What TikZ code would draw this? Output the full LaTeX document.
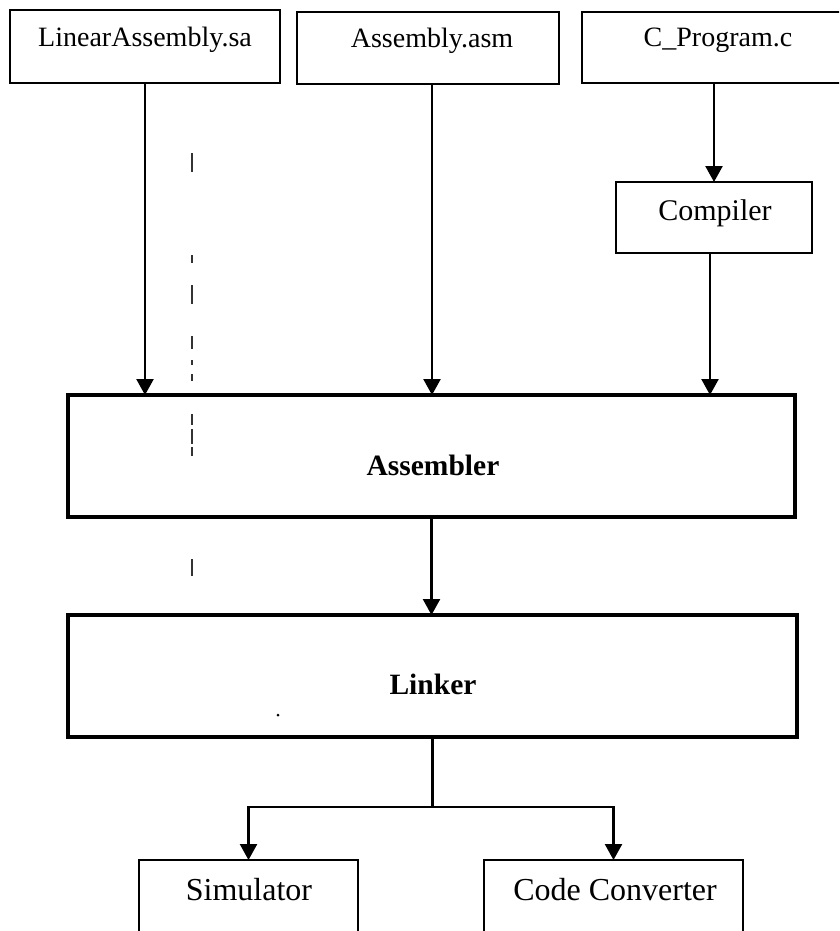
\documentclass[tikz,border=0pt]{standalone}
\usepackage{fontspec}
\setmainfont{Liberation Serif}
\usetikzlibrary{arrows.meta,calc}

\tikzset{
  box/.style={draw, line width=2.3pt, inner sep=0pt, outer sep=0pt},
  bigbox/.style={draw, line width=4.8pt, inner sep=0pt, outer sep=0pt},
  lbl/.style={anchor=base, inner sep=0pt, font=\fontsize{28}{33}\selectfont},
  lblbig/.style={anchor=base, inner sep=0pt, font=\fontsize{29.5}{34}\selectfont\bfseries},
  flow/.style={line width=2.4pt, -{Triangle[width=17pt,length=16pt]}},
  wire/.style={line width=2.4pt},
  speck/.style={line width=1.1pt, black!80}
}

\begin{document}
\begin{tikzpicture}[x=1pt, y=-1pt]
  \useasboundingbox (0,0) rectangle (839,931);
  \clip (0,0) rectangle (839,931);

  % source files
  \node[box, minimum width=270pt, minimum height=73pt] (lin) at (145,46.5) {};
  \node[box, minimum width=262pt, minimum height=72pt] (asmf) at (428,48) {};
  \node[box, minimum width=264pt, minimum height=71pt] (cprog) at (714,47.5) {};
  \node[lbl] (linT) at (145,47) {LinearAssembly.sa};
  \node[lbl] (asmT) at (432,48) {Assembly.asm};
  \node[lbl] (cprogT) at (718,47) {C\_Program.c};

  % compiler
  \node[box, minimum width=196pt, minimum height=71pt] (comp) at (714,217.5) {};
  \node[lbl, font=\fontsize{30}{35}\selectfont] (compT) at (715,220) {Compiler};

  % assembler and linker
  \node[bigbox, minimum width=727pt, minimum height=122pt] (asmb) at (431.5,456) {};
  \node[lblbig] (asmbT) at (433,475) {Assembler};
  \node[bigbox, minimum width=729pt, minimum height=122pt] (link) at (432.5,676) {};
  \node[lblbig] (linkT) at (433,694) {Linker};

  % outputs
  \node[box, minimum width=219pt, minimum height=90pt] (sim) at (248.5,905) {};
  \node[box, minimum width=259pt, minimum height=90pt] (conv) at (613.5,905) {};
  \node[lbl, font=\fontsize{32}{37}\selectfont] (simT) at (249,900) {Simulator};
  \node[lbl, font=\fontsize{32}{37}\selectfont] (convT) at (615,900) {Code Converter};

  % connectors
  \draw[flow] (lin.south) -- (lin.south |- asmb.north);
  \draw[flow] ([xshift=4pt]asmf.south) -- ([xshift=4pt]asmf.south |- asmb.north);
  \draw[flow] (cprog.south) -- (cprog.south |- comp.north);
  \draw[flow] ([xshift=-4pt]comp.south) -- ([xshift=-4pt]comp.south |- asmb.north);
  \draw[flow] (asmb.south) -- (asmb.south |- link.north);

  \coordinate (split) at ($(link.south)+(0,70)$);
  \draw[wire] (link.south) -- (split);
  \draw[flow] (split) -| (sim.north);
  \draw[flow] (split) -| (conv.north);

  % faint specks left over on the sheet
  \foreach \a/\b in {153/172, 255/263, 285/304, 336/349, 360/365, 374/381,
                     414/425, 429/444, 447/456, 559/576}
    \draw[speck] (192,\a) -- (192,\b);
  \fill (278,715) circle (1.5pt);
\end{tikzpicture}
\end{document}
